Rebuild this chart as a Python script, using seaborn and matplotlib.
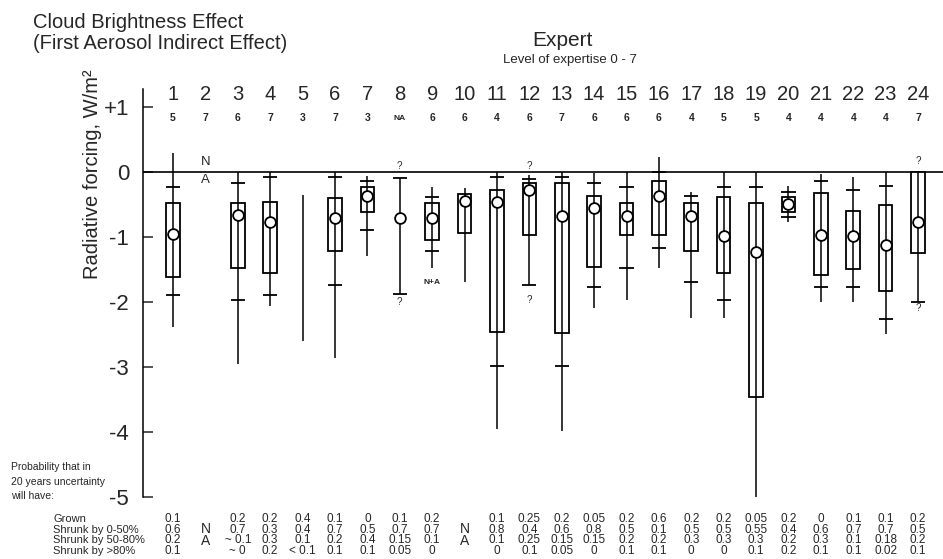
import numpy as np
import matplotlib
matplotlib.use("Agg")
import matplotlib.pyplot as plt
import matplotlib.transforms as mtransforms
import seaborn as sns

sns.set_style("white")
plt.rcParams['font.family'] = ['Liberation Sans', 'DejaVu Sans']

nan = np.nan

# Expert number and self-rated expertise
experts = list(range(1, 25))
expertise = ["5", "7", "6", "7", "3", "7", "3", "NA", "6", "6", "4", "6",
             "7", "6", "6", "6", "4", "5", "5", "4", "4", "4", "4", "7"]

# Radiative forcing distributions (W/m2)
line_top = [0.28, nan, 0.0, 0.0, -0.36, 0.0, -0.07, -0.1, -0.24, -0.25, 0.0, -0.05,
            0.0, -0.02, 0.0, 0.22, -0.31, 0.0, 0.0, -0.22, -0.03, -0.09, 0.0, 0.0]
line_bottom = [-2.38, nan, -2.96, -2.06, -2.61, -2.87, -1.3, -1.88, -1.48, -1.7, -3.95, -1.74,
               -3.98, -2.1, -1.98, -1.48, -2.25, -2.25, -5.0, -0.78, -2.0, -2.0, -2.5, -2.01]
cross_top = [-0.24, nan, -0.18, -0.08, nan, -0.08, -0.15, -0.1, -0.39, nan, -0.08, -0.12,
             -0.08, -0.18, -0.23, 0.0, -0.37, -0.24, -0.24, -0.31, -0.15, -0.28, -0.22, nan]
cross_bottom = [-1.9, nan, -1.98, -1.9, nan, -1.74, -0.9, -1.88, -1.22, nan, -2.98, -1.74,
                -2.98, -1.78, -1.48, -1.17, -1.7, -1.98, nan, -0.69, -1.78, -1.78, -2.26, -2.01]
box_top = [-0.48, nan, -0.48, -0.47, nan, -0.41, -0.23, nan, -0.48, -0.35, -0.28, -0.18,
           -0.18, -0.38, -0.48, -0.15, -0.48, -0.39, -0.48, -0.39, -0.33, -0.61, -0.51, 0.0]
box_bottom = [-1.62, nan, -1.48, -1.55, nan, -1.22, -0.62, nan, -1.05, -0.95, -2.46, -0.97,
              -2.48, -1.47, -0.97, -0.97, -1.22, -1.56, -3.47, -0.62, -1.59, -1.49, -1.83, -1.25]
median = [-0.96, nan, -0.66, -0.77, nan, -0.72, -0.38, -0.71, -0.71, -0.45, -0.47, -0.28,
          -0.68, -0.56, -0.68, -0.37, -0.68, -0.99, -1.24, -0.49, -0.97, -0.99, -1.13, -0.77]

# experts whose bounds are marked with "?"
question_experts = [8, 12, 24]
question_top = [0.08, 0.08, 0.17]
question_bottom = [-2.0, -1.98, -2.1]

# probability table
intro_lines = ["Probability that in", "20 years uncertainty", "will have:"]
row_labels = ["Grown", "Shrunk by 0-50%", "Shrunk by 50-80%", "Shrunk by >80%"]
grown = ["0.1", "", "0.2", "0.2", "0.4", "0.1", "0", "0.1", "0.2", "", "0.1", "0.25",
         "0.2", "0.05", "0.2", "0.6", "0.2", "0.2", "0.05", "0.2", "0", "0.1", "0.1", "0.2"]
shrunk_0_50 = ["0.6", "", "0.7", "0.3", "0.4", "0.7", "0.5", "0.7", "0.7", "", "0.8", "0.4",
               "0.6", "0.8", "0.5", "0.1", "0.5", "0.5", "0.55", "0.4", "0.6", "0.7", "0.7", "0.5"]
shrunk_50_80 = ["0.2", "", "~ 0.1", "0.3", "0.1", "0.2", "0.4", "0.15", "0.1", "", "0.1", "0.25",
                "0.15", "0.15", "0.2", "0.2", "0.3", "0.3", "0.3", "0.2", "0.3", "0.1", "0.18", "0.2"]
shrunk_80 = ["0.1", "", "~ 0", "0.2", "< 0.1", "0.1", "0.1", "0.05", "0", "", "0", "0.1",
             "0.05", "0", "0.1", "0.1", "0", "0", "0.1", "0.2", "0.1", "0.1", "0.02", "0.1"]
table_rows = [grown, shrunk_0_50, shrunk_50_80, shrunk_80]
na_experts = [2, 10]

# Setting figure
fig = plt.figure(figsize=(9.43, 5.59), dpi=100)
ax = fig.add_axes([143 / 943, 1 - 497 / 559, 800 / 943, 408 / 559])

x = np.array(experts, dtype=float)

# whole range lines
ax.vlines(x, line_bottom, line_top, color="black", lw=1.1, zorder=3)
# boxes
heights = np.array(box_top) - np.array(box_bottom)
ax.bar(x, heights, bottom=box_bottom, width=0.42, facecolor="white",
       edgecolor="black", linewidth=1.3, zorder=2)
# inner percentile crosses
ax.hlines(cross_top, x - 0.22, x + 0.22, color="black", lw=1.3, zorder=3)
ax.hlines(cross_bottom, x - 0.22, x + 0.22, color="black", lw=1.3, zorder=3)
# best estimate
sns.scatterplot(x=x, y=median, ax=ax, s=60, color="white", edgecolor="black",
                linewidth=1.3, zorder=4, legend=False)

for e, qt, qb in zip(question_experts, question_top, question_bottom):
    ax.text(e, qt, "?", ha="center", va="center", fontsize=7)
    ax.text(e, qb, "?", ha="center", va="center", fontsize=7)

ax.text(2, 0.15, "N", ha="center", va="center", fontsize=9.5)
ax.text(2, -0.13, "A", ha="center", va="center", fontsize=9.5)
ax.text(9, -1.7, "N+A", ha="center", va="center", fontsize=6, fontweight="bold")

# expert numbers and expertise level
for e, lvl in zip(experts, expertise):
    ax.text(e, 1.19, str(e), ha="center", va="center", fontsize=14.5)
    ax.text(e, 0.82, lvl, ha="center", va="center", fontsize=7.5 if lvl != "NA" else 6,
            fontweight="bold")

ax.axhline(0, color="black", lw=1.2, zorder=1)

ax.set_xlim(0.074, 24.77)
ax.set_ylim(-5, 1.27)
ax.set_xticks([])
ax.set_yticks([1, 0, -1, -2, -3, -4, -5])
ax.set_yticklabels(["+1", "0", "-1", "-2", "-3", "-4", "-5"], fontsize=16)
ax.tick_params(axis="y", direction="in", length=7, width=1.1, pad=10, left=True)
sns.despine(ax=ax, bottom=True)
ax.spines["left"].set_linewidth(1.1)
ax.spines["left"].set_color("black")
ax.set_facecolor("none")

# Titles
fig.text(33 / 943, 1 - 33 / 559, "Cloud Brightness Effect\n(First Aerosol Indirect Effect)",
         fontsize=14.5, ha="left", va="center", linespacing=1.1)
fig.text(562 / 943, 1 - 40 / 559, "Expert", fontsize=15, ha="center", va="center")
fig.text(570 / 943, 1 - 60 / 559, "Level of expertise 0 - 7", fontsize=9.5, ha="center", va="center")
fig.text(93 / 943, 1 - 174 / 559, "Radiative forcing, W/m²", fontsize=14.5, rotation=90,
         ha="center", va="center")

# probability table
for line, ypx in zip(intro_lines, [467, 482, 496]):
    fig.text(11 / 943, 1 - ypx / 559, line, fontsize=7.5, ha="left", va="center")
row_y = [519, 529.7, 540.4, 551]
trans = mtransforms.blended_transform_factory(ax.transData, fig.transFigure)
for label, vals, ypx in zip(row_labels, table_rows, row_y):
    fig.text(53 / 943, 1 - ypx / 559, label, fontsize=8, ha="left", va="center")
    for e, v in zip(experts, vals):
        if v:
            ax.text(e, 1 - ypx / 559, v, transform=trans, fontsize=8.5, ha="center",
                    va="center", clip_on=False)
for e in na_experts:
    ax.text(e, 1 - 535 / 559, "N\nA", transform=trans, fontsize=10, ha="center",
            va="center", linespacing=0.9, clip_on=False)

plt.savefig("out.png", dpi=100)
